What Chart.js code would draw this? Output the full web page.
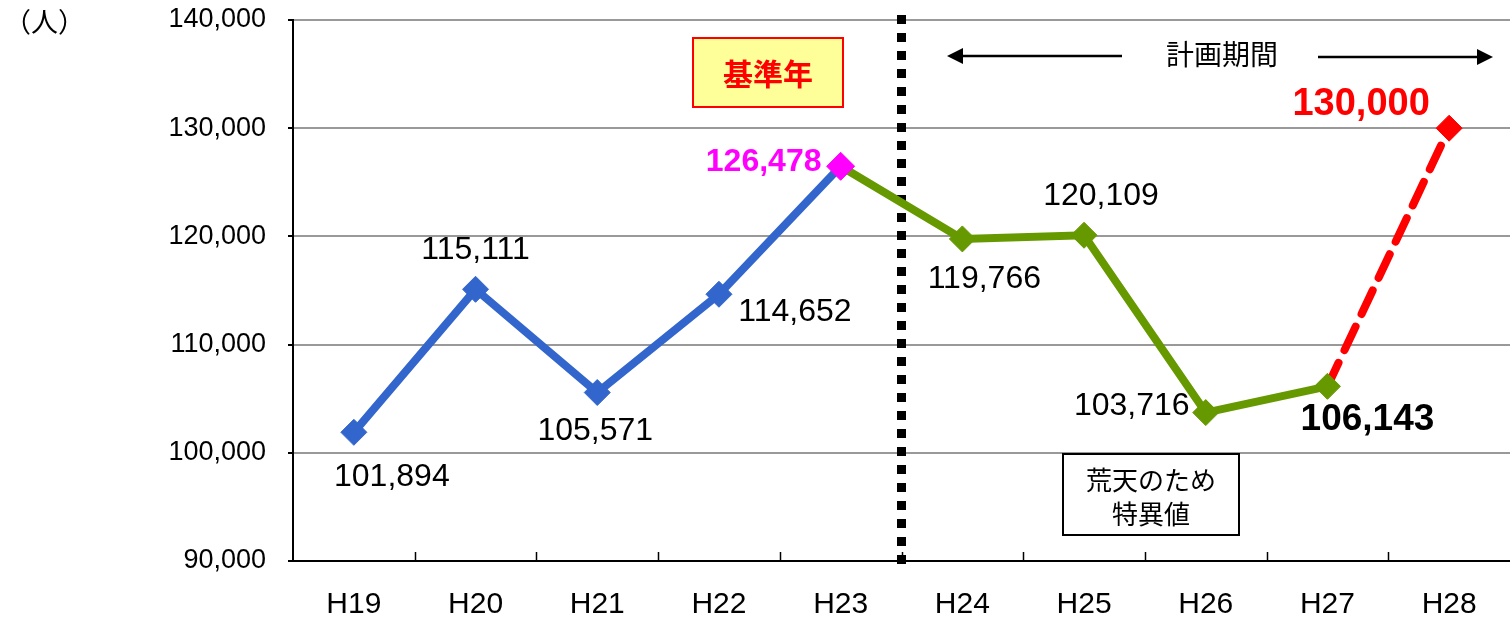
<!DOCTYPE html>
<html>
<head>
<meta charset="utf-8">
<script src="https://cdn.jsdelivr.net/npm/chart.js@4/dist/chart.umd.min.js"></script>
<style>
html,body{margin:0;padding:0;background:#fff;}
#wrap{position:relative;width:1510px;height:625px;}
</style>
</head>
<body>
<div id="wrap"><canvas id="c" width="1510" height="625"></canvas></div>
<script>
const categories = ['H19','H20','H21','H22','H23','H24','H25','H26','H27','H28'];
const actualBefore = [101894, 115111, 105571, 114652, 126478, null, null, null, null, null];
const actualPlan   = [null, null, null, null, 126478, 119766, 120109, 103716, 106143, null];
const target       = [null, null, null, null, null, null, null, null, 106143, 130000];
const yTicks = [90000, 100000, 110000, 120000, 130000, 140000];

const SANS = '"Liberation Sans", Arial, sans-serif';
const JP = '"Noto Sans CJK JP", sans-serif';

// label styling: [dataset, index, dx, dy, color, bold, size]
const labelStyle = [
  [0,0, 38, 45,'#000',false,32],
  [0,1,  0,-39,'#000',false,32],
  [0,2, -2, 39,'#000',false,32],
  [0,3, 76, 18,'#000',false,32],
  [0,4,-77, -4,'#FF00FF',true,32],
  [1,5, 22, 40,'#000',false,32],
  [1,6, 17,-39,'#000',false,32],
  [1,7,-74, -6,'#000',false,32],
  [1,8, 40, 33,'#000',true,37],
  [2,9,-88,-24,'#FF0000',true,38]
];

const fmt = v => v.toLocaleString('en-US');

const decor = {
  id:'decor',
  beforeDatasetsDraw(chart){
    const ctx = chart.ctx, x = chart.scales.x, y = chart.scales.y, a = chart.chartArea;
    ctx.save();
    ctx.strokeStyle = '#000'; ctx.lineWidth = 1.5;
    for (let i=1;i<categories.length;i++){
      const px = Math.round((x.getPixelForValue(i-1)+x.getPixelForValue(i))/2)+0.5;
      ctx.beginPath(); ctx.moveTo(px, a.bottom); ctx.lineTo(px, a.bottom-9); ctx.stroke();
    }
    const dx = (x.getPixelForValue(4)+x.getPixelForValue(5))/2;
    ctx.strokeStyle = '#000'; ctx.lineWidth = 9; ctx.setLineDash([9,9]);
    ctx.beginPath(); ctx.moveTo(dx, a.top-5); ctx.lineTo(dx, a.bottom+8); ctx.stroke();
    ctx.setLineDash([]);
    ctx.restore();
  },
  afterDatasetsDraw(chart){
    const ctx = chart.ctx;
    ctx.save();
    ctx.textAlign='center'; ctx.textBaseline='middle';
    labelStyle.forEach(([d,i,ox,oy,col,bold,size])=>{
      const el = chart.getDatasetMeta(d).data[i];
      const v = chart.data.datasets[d].data[i];
      ctx.font = (bold?'bold ':'') + size + 'px ' + SANS;
      ctx.fillStyle = col;
      ctx.fillText(fmt(v), el.x+ox, el.y+oy);
    });
    ctx.fillStyle='#FFFF99'; ctx.fillRect(693,38,150,69);
    ctx.strokeStyle='#FF0000'; ctx.lineWidth=2; ctx.strokeRect(693,38,150,69);
    ctx.fillStyle='#FF0000'; ctx.font='bold 30px '+JP;
    ctx.fillText('基準年', 768, 74);
    ctx.fillStyle='#fff'; ctx.fillRect(1063,454,176,81);
    ctx.strokeStyle='#000'; ctx.lineWidth=2; ctx.strokeRect(1063,454,176,81);
    ctx.fillStyle='#000'; ctx.font='26px '+JP;
    ctx.fillText('荒天のため', 1151, 480);
    ctx.fillText('特異値', 1151, 514);
    ctx.font='28px '+JP;
    ctx.fillText('計画期間', 1222, 54);
    ctx.strokeStyle='#000'; ctx.lineWidth=2.5;
    ctx.beginPath(); ctx.moveTo(1122,56); ctx.lineTo(958,56); ctx.stroke();
    ctx.beginPath(); ctx.moveTo(947,56); ctx.lineTo(963,48); ctx.lineTo(963,64); ctx.closePath(); ctx.fill();
    ctx.beginPath(); ctx.moveTo(1318,57); ctx.lineTo(1482,57); ctx.stroke();
    ctx.beginPath(); ctx.moveTo(1493,57); ctx.lineTo(1477,49); ctx.lineTo(1477,65); ctx.closePath(); ctx.fill();
    ctx.textAlign='left'; ctx.font='27px '+JP;
    ctx.fillText('（人）', 4, 22);
    ctx.restore();
  }
};

new Chart(document.getElementById('c'), {
  type:'line',
  data:{
    labels: categories,
    datasets:[
      {data: actualBefore, borderColor:'#3366CC', backgroundColor:'#3366CC', borderWidth:8,
       pointStyle:'rectRot', pointRadius:[13,13,13,13,14], pointBackgroundColor:['#3366CC','#3366CC','#3366CC','#3366CC','#FF00FF'],
       pointBorderColor:['#3366CC','#3366CC','#3366CC','#3366CC','#FF00FF'], pointBorderWidth:1, spanGaps:false},
      {data: actualPlan, borderColor:'#669900', backgroundColor:'#669900', borderWidth:8,
       pointStyle:'rectRot', pointRadius:[0,0,0,0,0,13,13,13,13,0], pointBorderColor:'#669900', pointBackgroundColor:'#669900', pointBorderWidth:1},
      {data: target, borderColor:'#FF0000', backgroundColor:'#FF0000', borderWidth:8, borderDash:[26,14], borderCapStyle:'round',
       pointStyle:'rectRot', pointRadius:[0,0,0,0,0,0,0,0,0,13], pointBorderColor:'#FF0000', pointBackgroundColor:'#FF0000', pointBorderWidth:1}
    ]
  },
  options:{
    responsive:false, animation:false,
    layout:{autoPadding:false, padding:{top:20,right:0,left:0,bottom:0}},
    plugins:{legend:{display:false}, tooltip:{enabled:false}},
    scales:{
      x:{
        offset:true,
        grid:{display:false, drawTicks:false},
        border:{display:true, color:'#000', width:2},
        ticks:{font:{family:SANS, size:30}, color:'#000', padding:26, maxRotation:0},
        afterFit(s){ s.height = 64; s.paddingLeft = 0; s.paddingRight = 0; }
      },
      y:{
        min:90000, max:140000,
        afterBuildTicks(s){ s.ticks = yTicks.map(v=>({value:v})); },
        grid:{color:(c)=> c.tick && c.tick.value===90000 ? '#000' : '#999', lineWidth:2, tickLength:5, tickColor:'#000'},
        border:{display:true, color:'#000', width:2},
        ticks:{font:{family:SANS, size:27}, color:'#000', padding:22, callback:v=>fmt(v)},
        afterFit(s){ s.width = 293; s.paddingTop = 0; s.paddingBottom = 0; }
      }
    }
  },
  plugins:[decor]
});
</script>
</body>
</html>
